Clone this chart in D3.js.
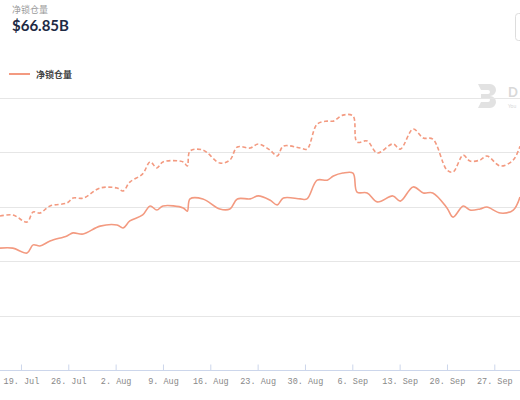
<!DOCTYPE html>
<html><head><meta charset="utf-8">
<script src="https://cdn.jsdelivr.net/npm/d3@7"></script>
<style>body{margin:0;background:#fff;}svg{display:block;}</style>
</head><body>
<script>
// day offsets since 19 Jul
const days = [-3.1,-1.2,0.9,1.8,2.8,4.3,6.8,7.7,9.2,11.7,14.2,15.1,16.1,18.0,19.1,20.1,21.0,24.0,24.6,25.0,26.9,29.4,30.9,32.0,33.9,35.1,36.8,37.9,38.8,41.3,42.3,43.8,45.3,46.2,47.6,49.1,49.7,51.2,52.7,55.0,56.1,58.0,59.5,60.9,63.0,63.9,65.4,66.4,67.9,68.9,70.9,72.8,73.8];
const solidValues = [44.8,44.8,43.0,46.0,45.6,47.4,49.3,50.4,50.0,52.9,53.3,52.2,54.8,57.0,60.3,58.8,60.3,59.6,58.4,62.9,62.9,59.2,59.2,62.9,62.9,64.0,62.5,60.7,63.2,62.9,62.9,69.8,69.8,71.3,72.4,72.4,65.4,65.1,61.8,64.0,62.1,67.3,65.1,65.1,59.6,56.2,60.3,58.8,59.2,59.9,57.7,58.8,63.6];
const dashedValues = [56.6,57.0,54.4,58.1,57.7,60.3,61.4,63.2,63.2,66.9,66.9,65.8,69.1,72.1,76.5,74.3,76.5,76.5,75.0,80.5,80.9,76.1,77.2,82.0,81.6,83.1,80.9,78.7,82.3,81.6,81.2,90.4,91.5,91.5,93.7,93.4,83.8,84.2,79.8,83.1,81.2,88.6,85.3,84.9,73.5,72.8,79.0,76.8,77.2,78.7,75.0,77.2,82.3];
const tickDays = [0,7,14,21,28,35,42,49,56,63,70];
const tickLabels = ["19. Jul","26. Jul","2. Aug","9. Aug","16. Aug","23. Aug","30. Aug","6. Sep","13. Sep","20. Sep","27. Sep"];
const gridValues = [20,40,60,80,100];
const title = "净锁仓量", headline = "$66.85B", legendLabel = "净锁仓量";

const W=520,H=400, color="#f39a80";
const svg=d3.select("body").append("svg").attr("width",W).attr("height",H);
const x=d3.scaleLinear().domain([-3.1,73.8]).range([0,520]);
const y=d3.scaleLinear().domain([0,100]).range([370,98]);

svg.append("text").attr("x",12).attr("y",13).text(title).attr("font-family","Noto Sans CJK SC").attr("font-size",9).attr("fill","#999");
svg.append("text").attr("x",12).attr("y",31).text(headline).attr("font-family","Lato").attr("font-weight","bold").attr("font-size",15).attr("fill","#1e2a44");
svg.append("rect").attr("x",515.5).attr("y",13.5).attr("width",10).attr("height",27).attr("rx",3).attr("fill","none").attr("stroke","#ddd");
svg.append("line").attr("x1",9).attr("x2",30).attr("y1",74).attr("y2",74).attr("stroke",color).attr("stroke-width",2);
svg.append("text").attr("x",36).attr("y",77.5).text(legendLabel).attr("font-family","Noto Sans CJK SC").attr("font-weight","bold").attr("font-size",9).attr("fill","#444");

// watermark
svg.append("path").attr("d","M478,84 h12 a6,6 0 0 1 0,12 a6,6 0 0 1 0,12 h-12 l3,-6 h7 a2,2 0 0 0 0,-4 h-7 v-4 h7 a2,2 0 0 0 0,-4 h-7 z").attr("fill","#e2e2e2");
svg.append("text").attr("x",508).attr("y",97).text("D").attr("font-family","Lato").attr("font-weight","bold").attr("font-size",13).attr("fill","#d8d8d8");
svg.append("text").attr("x",508).attr("y",108).text("You").attr("font-family","Lato").attr("font-size",5).attr("fill","#d8d8d8");

svg.append("g").selectAll("line").data(gridValues).join("line")
  .attr("x1",0).attr("x2",W).attr("y1",d=>Math.round(y(d))+.5).attr("y2",d=>Math.round(y(d))+.5).attr("stroke","#e6e6e6");

const ax=svg.append("g").attr("transform","translate(0,370.5)")
  .call(d3.axisBottom(x).tickValues(tickDays).tickFormat((d,i)=>tickLabels[i]).tickSize(6).tickPadding(4));
ax.select(".domain").attr("stroke","#ccd6eb").attr("d","M0,0H520");
ax.selectAll(".tick line").attr("stroke","#ccd6eb").attr("y1",-6).attr("y2",0);
ax.selectAll("text").attr("font-family","Liberation Mono").attr("font-size",8.5).attr("fill","#888").attr("dy","0.4em");

const line=d3.line().curve(d3.curveCatmullRom.alpha(0.5));
svg.append("path").attr("d",line(days.map((d,i)=>[x(d),y(dashedValues[i])]))).attr("fill","none").attr("stroke",color).attr("stroke-width",1.6).attr("stroke-dasharray","4,2.5");
svg.append("path").attr("d",line(days.map((d,i)=>[x(d),y(solidValues[i])]))).attr("fill","none").attr("stroke",color).attr("stroke-width",1.6);
</script></body></html>
